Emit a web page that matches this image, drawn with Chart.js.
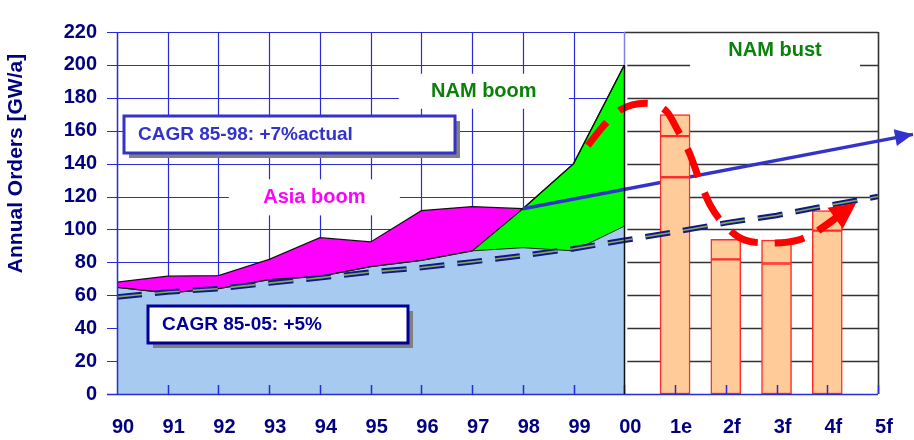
<!DOCTYPE html>
<html><head><meta charset="utf-8">
<script src="https://cdn.jsdelivr.net/npm/chart.js@4/dist/chart.umd.min.js"></script>
<style>html,body{margin:0;padding:0;background:#fff;}canvas{display:block;}</style>
</head><body>
<canvas id="c" width="914" height="440"></canvas>
<script>
// ---- data ----
const years = ['90','91','92','93','94','95','96','97','98','99','00','1e','2f','3f','4f','5f'];
const baseOrders = [64.8, 61.4, 64, 69.5, 71.5, 77.4, 81.2, 87, 88.9, 87, 102];
const namBoom    = [0, 0, 0, 0, 0, 0, 0, 0, 23.7, 53, 98];
const asiaBoom   = [3.2, 10.2, 8, 12.3, 23.5, 15, 30.2, 26.9, 0, 0, 0];
const barPos  = [11, 12, 13, 14];
const barLow  = [131.7, 81.8, 79.3, 99.3];
const barMid  = [156.7, 94.0, 93.5, 111.4];
const barHigh = [169.8, null, null, null];
const cagr5 = [59, 62, 64, 67.4, 70.6, 74.1, 76.8, 80.3, 84.1, 88.3, 93.4, 98.5, 104, 108.5, 114.5, 120];
const cagr7X = [8, 15.69];
const cagr7Y = [112.6, 157.8];
const bustX = [9.28, 9.62, 9.92, 10.41, 10.84, 11.04, 11.28, 11.49, 11.69, 11.99, 12.38, 12.87, 13.42, 13.82, 14.57];
const bustY = [151, 164, 172.6, 176.7, 171.5, 161, 146.7, 129.3, 114.9, 102.2, 93.5, 91.8, 93.5, 99.3, 116.1];
const yTickStep = 20, yMax = 220;

const FONT = "'Liberation Sans', Arial, sans-serif";
Chart.defaults.font.family = FONT;

const baseTop = baseOrders.map(v => v);
const namTop = baseOrders.map((v, i) => v + namBoom[i]);
const asiaTop = namTop.map((v, i) => v + asiaBoom[i]);
const pts = arr => arr.map((v, i) => ({x: i, y: v}));

function line(ctx, x0, y0, x1, y1) { ctx.beginPath(); ctx.moveTo(x0, y0); ctx.lineTo(x1, y1); ctx.stroke(); }
function arrowHead(ctx, x0, y0, x1, y1, len, half, color) {
  const a = Math.atan2(y1 - y0, x1 - x0);
  ctx.save(); ctx.translate(x1, y1); ctx.rotate(a);
  ctx.beginPath(); ctx.moveTo(0, 0); ctx.lineTo(-len, half); ctx.lineTo(-len, -half); ctx.closePath();
  ctx.fillStyle = color; ctx.fill(); ctx.restore();
}

const labels = [
  {text: 'NAM boom', x: 7.23, y: 184, color: '#0B800B', w: 170, h: 35},
  {text: 'Asia boom', x: 3.89, y: 119.5, color: '#FF00FF', w: 171, h: 36},
  {text: 'NAM bust', x: 12.97, y: 208.5, color: '#0B800B', w: 170, h: 34}
];
const boxes = [
  {text: 'CAGR 85-98: +7%actual', x: 3.40, y: 157.9, w: 331, h: 37, color: '#3333CC'},
  {text: 'CAGR 85-05: +5%', x: 3.17, y: 42.4, w: 260, h: 37, color: '#000099'}
];

const decor = {
  id: 'decor',
  beforeDraw(chart) {
    const ctx = chart.ctx, xs = chart.scales.x, ys = chart.scales.y;
    const L = xs.getPixelForValue(0), M = xs.getPixelForValue(10), R = xs.getPixelForValue(15);
    const T = ys.getPixelForValue(yMax), B = ys.getPixelForValue(0);
    ctx.save();
    ctx.fillStyle = '#fff'; ctx.fillRect(0, 0, chart.width, chart.height);
    // left panel blue grid
    ctx.strokeStyle = '#2a2ad6'; ctx.lineWidth = 1.2;
    for (let v = yTickStep; v <= yMax; v += yTickStep) {
      const py = Math.round(ys.getPixelForValue(v)) + 0.5;
      line(ctx, L - 10, py, M, py);
    }
    for (let i = 1; i < 10; i++) {
      const px = Math.round(xs.getPixelForValue(i)) + 0.5;
      line(ctx, px, T, px, B);
    }
    // right panel black grid
    ctx.strokeStyle = '#333'; ctx.lineWidth = 1.6;
    for (let v = yTickStep; v < yMax; v += yTickStep) {
      const py = Math.round(ys.getPixelForValue(v)) + 0.5;
      line(ctx, M + 3, py, R, py);
    }
    line(ctx, M, Math.round(T) + 0.5, R, Math.round(T) + 0.5);
    line(ctx, Math.round(R) + 0.5, T, Math.round(R) + 0.5, B);
    // text labels with white backing
    ctx.font = 'bold 20px ' + FONT; ctx.textAlign = 'center'; ctx.textBaseline = 'middle';
    labels.forEach(l => {
      const cx = xs.getPixelForValue(l.x), cy = ys.getPixelForValue(l.y);
      ctx.fillStyle = '#fff'; ctx.fillRect(cx - l.w / 2, cy - l.h / 2, l.w, l.h);
      ctx.fillStyle = l.color; ctx.fillText(l.text, cx, cy);
    });
    ctx.restore();
  },
  afterDatasetsDraw(chart) {
    const ctx = chart.ctx, xs = chart.scales.x, ys = chart.scales.y;
    const L = xs.getPixelForValue(0), M = xs.getPixelForValue(10), R = xs.getPixelForValue(15);
    const T = ys.getPixelForValue(yMax), B = ys.getPixelForValue(0);
    ctx.save();
    // axes
    ctx.strokeStyle = '#2a2ad6'; ctx.lineWidth = 1.5;
    line(ctx, Math.round(L) + 0.5, T, Math.round(L) + 0.5, B);
    line(ctx, L - 10, Math.round(B) + 0.5, R, Math.round(B) + 0.5);
    for (let i = 1; i <= 15; i++) {
      const px = Math.round(xs.getPixelForValue(i)) + 0.5;
      line(ctx, px, B, px, B - 9);
    }
    // panel divider
    const topAt10 = ys.getPixelForValue(asiaTop[10]);
    ctx.strokeStyle = '#8080e0'; ctx.lineWidth = 1.5;
    line(ctx, Math.round(M) + 0.5, T, Math.round(M) + 0.5, topAt10);
    ctx.strokeStyle = '#111'; ctx.lineWidth = 1.5;
    line(ctx, Math.round(M) + 0.5, topAt10, Math.round(M) + 0.5, B);
    // blue CAGR arrow head
    const am = chart.getDatasetMeta(3).data;
    arrowHead(ctx, am[0].x, am[0].y, am[1].x, am[1].y, 18, 8.5, '#3333CC');
    // red bust arrow: solid shaft + head
    const rm = chart.getDatasetMeta(9).data, n = rm.length;
    const p0 = rm[n - 2], p1 = rm[n - 1];
    const ang = Math.atan2(p1.y - p0.y, p1.x - p0.x);
    ctx.strokeStyle = '#FF0000'; ctx.lineWidth = 7; ctx.lineCap = 'butt';
    line(ctx, p0.x, p0.y, p1.x - 20 * Math.cos(ang), p1.y - 20 * Math.sin(ang));
    arrowHead(ctx, p0.x, p0.y, p1.x, p1.y, 26, 13, '#FF0000');
    // CAGR boxes
    ctx.font = 'bold 19px ' + FONT; ctx.textAlign = 'left'; ctx.textBaseline = 'middle';
    boxes.forEach(b => {
      const cx = xs.getPixelForValue(b.x), cy = ys.getPixelForValue(b.y);
      const x0 = Math.round(cx - b.w / 2), y0 = Math.round(cy - b.h / 2);
      ctx.fillStyle = '#808080'; ctx.fillRect(x0 + 5, y0 + 5, b.w, b.h);
      ctx.fillStyle = '#fff'; ctx.fillRect(x0, y0, b.w, b.h);
      ctx.strokeStyle = b.color; ctx.lineWidth = 3; ctx.strokeRect(x0, y0, b.w, b.h);
      ctx.fillStyle = b.color; ctx.fillText(b.text, x0 + 14, cy + 1);
    });
    // y-axis title
    ctx.save();
    ctx.translate(16, 163.5); ctx.rotate(-Math.PI / 2);
    ctx.font = 'bold 21px ' + FONT; ctx.textAlign = 'center'; ctx.textBaseline = 'middle';
    ctx.fillStyle = '#000080'; ctx.fillText('Annual Orders [GW/a]', 0, 0);
    ctx.restore();
    ctx.restore();
  }
};

const barCommon = {type: 'bar', backgroundColor: '#FFCC99', borderColor: '#FF2A2A', borderWidth: 1.5,
  borderSkipped: false, barThickness: 30, grouped: false, order: 6};

new Chart(document.getElementById('c'), {
  type: 'line',
  data: {
    datasets: [
      {label: 'base', data: pts(baseTop), fill: 'origin', backgroundColor: '#A6CAF0', borderColor: '#222', borderWidth: 1, pointRadius: 0, tension: 0, order: 10},
      {label: 'NAM boom', data: pts(namTop), fill: 0, backgroundColor: '#00FF00', borderColor: '#111', borderWidth: 1.2, pointRadius: 0, tension: 0, order: 9},
      {label: 'Asia boom', data: pts(asiaTop), fill: 1, backgroundColor: '#FF00FF', borderColor: '#111', borderWidth: 1.2, pointRadius: 0, tension: 0, order: 8},
      {label: 'CAGR 85-98', data: cagr7X.map((x, i) => ({x, y: cagr7Y[i]})), borderColor: '#3333CC', borderWidth: 3.5, pointRadius: 0, fill: false, clip: false, order: 7},
      Object.assign({label: 'bar1', data: barPos.map((x, i) => ({x, y: [0, barLow[i]]}))}, barCommon),
      Object.assign({label: 'bar2', data: barPos.map((x, i) => ({x, y: [barLow[i], barMid[i]]}))}, barCommon),
      Object.assign({label: 'bar3', data: barPos.map((x, i) => barHigh[i] == null ? null : ({x, y: [barMid[i], barHigh[i]]})).filter(d => d)}, barCommon),
      {label: 'CAGR 85-05 edge', data: pts(cagr5), borderColor: '#14148c', borderWidth: 5.5, borderDash: [25, 13], borderCapStyle: 'butt', pointRadius: 0, fill: false, order: 5},
      {label: 'CAGR 85-05', data: pts(cagr5), borderColor: '#7fae4a', borderWidth: 1.6, borderDash: [25, 13], borderCapStyle: 'butt', pointRadius: 0, fill: false, order: 4},
      {label: 'bust', data: bustX.map((x, i) => ({x, y: bustY[i]})), borderColor: '#FF0000', borderWidth: 7, borderDash: [30, 17], borderCapStyle: 'butt', cubicInterpolationMode: 'monotone', pointRadius: 0, fill: false, clip: false, order: 3}
    ]
  },
  options: {
    responsive: false, animation: false, events: [],
    layout: {padding: {left: 0, right: 36, top: 13, bottom: 0}},
    plugins: {legend: {display: false}, tooltip: {enabled: false}, filler: {drawTime: 'beforeDatasetsDraw'}},
    scales: {
      x: {type: 'linear', min: 0, max: 15, offset: false,
        grid: {display: false, drawTicks: false, offset: false}, border: {display: false},
        ticks: {stepSize: 1, maxTicksLimit: 20, padding: 21, labelOffset: 6, color: '#000080', maxRotation: 0,
          font: {size: 20, weight: 'bold'}, callback: v => years[Math.round(v)] ?? ''},
        afterFit: s => { s.height = 46; }},
      y: {min: 0, max: yMax,
        grid: {display: false, drawTicks: false}, border: {display: false},
        ticks: {stepSize: yTickStep, maxTicksLimit: 20, padding: 20, color: '#000080', font: {size: 20, weight: 'bold'}},
        afterFit: s => { s.width = 117; }}
    }
  },
  plugins: [decor]
});
</script>
</body></html>
